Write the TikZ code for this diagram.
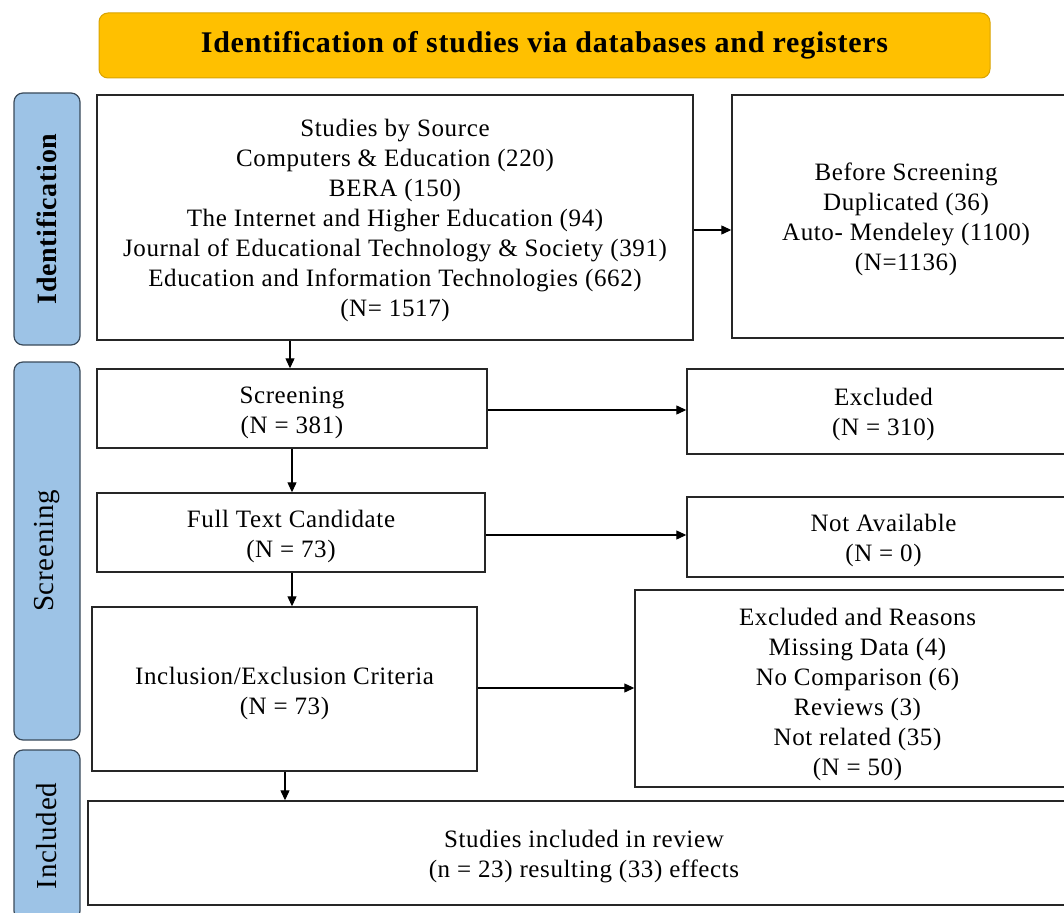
\documentclass[tikz,border=0pt]{standalone}
\usepackage{fontspec}
\setmainfont{Liberation Serif}[LetterSpace=2.5]
\usetikzlibrary{arrows.meta}
\definecolor{bannerfill}{HTML}{FFC000}
\definecolor{bannerdraw}{HTML}{D9A300}
\definecolor{barfill}{HTML}{9DC3E6}
\definecolor{bardraw}{HTML}{3A4A5A}
\tikzset{
  box/.style={draw=black!85, line width=1.4pt, fill=white, inner sep=0pt},
  boxtext/.style={inner sep=0pt, align=center, font=\fontsize{25}{30}\selectfont},
  bar/.style={draw=bardraw, line width=1.2pt, fill=barfill, rounded corners=9pt, inner sep=0pt,
    minimum width=66pt},
  bartext/.style={rotate=90, font=\fontsize{29}{30}\selectfont},
  arr/.style={-{Triangle[length=10pt,width=9pt]}, line width=1.2pt, black}
}
\begin{document}
\begin{tikzpicture}[x=1pt,y=-1pt]
\useasboundingbox (0,0) rectangle (1064,912);
\clip (0,0) rectangle (1064,912);
% banner
\node[draw=bannerdraw, line width=1pt, fill=bannerfill, rounded corners=9pt, minimum width=891pt, minimum height=65pt,
  font=\fontsize{30}{30}\selectfont\bfseries] (banner) at (544.5,45.5) {Identification of studies via databases and registers};
% side bars
\node[bar, minimum height=252pt] (idbar) at (47,219) {};
\node[bartext, font=\fontsize{28}{30}\selectfont\bfseries] (idtxt) at (idbar.center) {Identification};
\node[bar, minimum height=378pt] (scbar) at (47,551) {};
\node[bartext] (sctxt) at (scbar.center) {Screening};
\node[bar, minimum height=170pt] (inbar) at (47,835) {};
\node[bartext] (intxt) at (47,836) {Included};
% boxes
\node[box, minimum width=596pt, minimum height=245pt] (src) at (395,217.5) {};
\node[boxtext] (srcT) at ([yshift=-3pt]src.center) {Studies by Source\\Computers \& Education (220)\\BERA (150)\\The Internet and Higher Education (94)\\Journal of Educational Technology \& Society (391)\\Education and Information Technologies (662)\\(N= 1517)};
\node[box, minimum width=348pt, minimum height=243pt] (before) at (906,216.5) {};
\node[boxtext] (beforeT) at ([yshift=-3pt]before.center) {Before Screening\\Duplicated (36)\\Auto- Mendeley (1100)\\(N=1136)};
\node[box, minimum width=390pt, minimum height=79pt] (scr) at (292,408.5) {};
\node[boxtext] (scrT) at ([yshift=-4pt]scr.center) {Screening\\(N = 381)};
\node[box, minimum width=393pt, minimum height=85pt] (excl) at (883.5,411.5) {};
\node[boxtext] (exclT) at ([yshift=-3pt]excl.center) {Excluded\\(N = 310)};
\node[box, minimum width=388pt, minimum height=79pt] (full) at (291,532.5) {};
\node[boxtext] (fullT) at ([yshift=-4pt]full.center) {Full Text Candidate\\(N = 73)};
\node[box, minimum width=393pt, minimum height=80pt] (na) at (883.5,537) {};
\node[boxtext] (naT) at ([yshift=-3pt]na.center) {Not Available\\(N = 0)};
\node[box, minimum width=385pt, minimum height=164pt] (incl) at (284.5,689) {};
\node[boxtext] (inclT) at ([yshift=-4pt]incl.center) {Inclusion/Exclusion Criteria\\(N = 73)};
\node[box, minimum width=445pt, minimum height=197pt] (reasons) at (857.5,688.5) {};
\node[boxtext] (reasonsT) at ([yshift=-6pt]reasons.center) {Excluded and Reasons\\Missing Data (4)\\No Comparison (6)\\Reviews (3)\\Not related (35)\\(N = 50)};
\node[box, minimum width=992pt, minimum height=104pt] (final) at (584,853) {};
\node[boxtext] (finalT) at ([yshift=-4pt]final.center) {Studies included in review\\(n = 23) resulting (33) effects};
% arrows
\draw[arr] (src.east |- 0,230) -- (before.west |- 0,230);
\draw[arr] (scr.east |- 0,410) -- (excl.west |- 0,410);
\draw[arr] (full.east |- 0,535) -- (na.west |- 0,535);
\draw[arr] (incl.east |- 0,688) -- (reasons.west |- 0,688);
\draw[arr] (src.south -| 290,0) -- (scr.north -| 290,0);
\draw[arr] (scr.south -| 292,0) -- (full.north -| 292,0);
\draw[arr] (full.south -| 292,0) -- (incl.north -| 292,0);
\draw[arr] (incl.south -| 285,0) -- (final.north -| 285,0);
\end{tikzpicture}
\end{document}
